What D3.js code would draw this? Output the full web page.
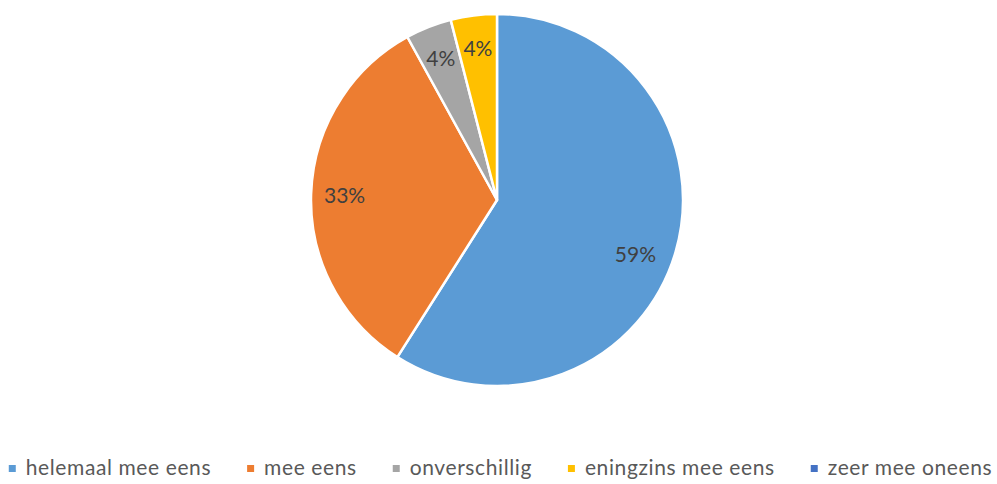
<!DOCTYPE html>
<html>
<head>
<meta charset="utf-8">
<script src="https://cdn.jsdelivr.net/npm/d3@7"></script>
<style>
  body { margin: 0; background: #fff; }
  text { font-family: Lato, "Open Sans", sans-serif; }
</style>
</head>
<body>
<div id="container"></div>
<script>
/* CONSTANTS AND GLOBALS */
const width = 997,
  height = 484,
  cx = 497,
  cy = 200,
  radius = 186;

/* DATA */
const categories = ["helemaal mee eens", "mee eens", "onverschillig", "eningzins mee eens", "zeer mee oneens"]
const values = [59, 33, 4, 4, 0]
const labels = ["59%", "33%", "4%", "4%", "0%"]
const colors = ["#5B9BD5", "#ED7D31", "#A5A5A5", "#FFC000", "#4472C4"]

const data = categories.map((c, i) => ({ name: c, value: values[i], label: labels[i] }))

/* SCALES */
const color = d3.scaleOrdinal()
  .domain(categories)
  .range(colors)

const pie = d3.pie()
  .value(d => d.value)
  .sort(null)

const arc = d3.arc()
  .innerRadius(0)
  .outerRadius(radius)

const labelArc = d3.arc()
  .innerRadius(radius * 0.82)
  .outerRadius(radius * 0.82)

/* HTML ELEMENTS */
const svg = d3.select("#container")
  .append("svg")
  .attr("width", width)
  .attr("height", height)

const g = svg.append("g")
  .attr("transform", `translate(${cx},${cy})`)

const arcs = pie(data)

// slices
g.selectAll("path.slice")
  .data(arcs.filter(d => d.data.value > 0))
  .join("path")
  .attr("class", "slice")
  .attr("d", arc)
  .attr("fill", d => color(d.data.name))
  .attr("stroke", "#fff")
  .attr("stroke-width", 2.5)
  .attr("stroke-linejoin", "round")

// labels (the big slice sits a bit lower, like excel's best fit)
g.selectAll("text.label")
  .data(arcs.filter(d => d.data.value > 0))
  .join("text")
  .attr("class", "label")
  .attr("transform", d => {
    const [x, y] = labelArc.centroid(d)
    return d.index === 0 ? `translate(${x - 8},${y + 12})` : `translate(${x},${y})`
  })
  .attr("text-anchor", "middle")
  .attr("dy", "0.35em")
  .attr("font-size", 21)
  .attr("fill", "#404040")
  .text(d => d.data.label)

// legend
const legend = svg.append("g")
  .attr("transform", `translate(0,468)`)

const items = legend.selectAll("g.item")
  .data(data)
  .join("g")
  .attr("class", "item")

items.append("rect")
  .attr("width", 7)
  .attr("height", 7)
  .attr("y", -3)
  .attr("fill", d => color(d.name))

items.append("text")
  .attr("x", 17)
  .attr("dy", "0.35em")
  .attr("font-size", 21)
  .attr("letter-spacing", 0.6)
  .attr("fill", "#595959")
  .text(d => d.name)

// place items side by side, centered
let x = 0
const offsets = []
items.each(function () {
  offsets.push(x)
  const w = d3.select(this).select("text").node().getComputedTextLength()
  x += 17 + w + 36
})
const total = x - 36
const start = (width - total) / 2 + 2
items.attr("transform", (d, i) => `translate(${start + offsets[i]},0)`)
</script>
</body>
</html>
